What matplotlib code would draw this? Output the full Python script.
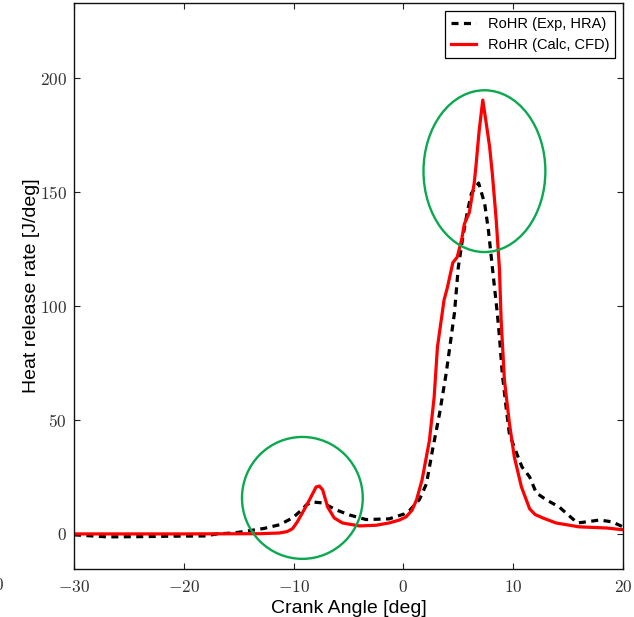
import matplotlib
matplotlib.use("Agg")
import matplotlib.pyplot as plt
from matplotlib.patches import Ellipse

plt.rcParams['mathtext.fontset'] = 'cm'
plt.rcParams['font.family'] = ['Liberation Sans', 'DejaVu Sans']

# Experimental RoHR (HRA)
exp_x = [-30, -28, -27, -24, -21, -18, -17, -15.5, -14.6, -12.7, -11.3, -10.1, -9.2,
         -8.85, -8.3, -7.35, -6.1, -4.9, -3.4, -1.3, 0.1, 0.6, 1.45, 2.1, 2.65, 3.3, 3.9,
         4.35, 4.65, 5.0, 5.4, 5.85, 6.2, 6.85, 7.4, 7.75, 8.1, 8.55, 8.75, 9.0, 9.35, 9.65,
         10.1, 10.8, 11.5, 12.1, 13.0, 14.2, 14.5, 15.85, 17.0, 17.85, 19.0, 20]
exp_y = [-0.4, -1.0, -1.3, -1.2, -1.0, -0.9, 0, 0.4, 1.0, 2.4, 4.0, 7.0, 10.8,
         12.7, 14, 13.6, 10.5, 8.3, 6.3, 6.6, 8.8, 10.5, 15, 22, 36.8, 53, 70.6,
         86.4, 97, 117, 130, 142, 149.5, 154, 145, 133, 117, 97, 86.4, 70.6, 55.7, 44,
         38, 29.4, 25, 18, 15, 11.8, 10.5, 4.8, 5.5, 6.1, 5.3, 3.1]

# Calculated RoHR (CFD)
cfd_x = [-30, -20, -13, -11.3, -10.6, -10.1, -9.7, -9.2, -8.55, -7.95, -7.65, -7.35,
         -6.9, -6.3, -5.55, -4.0, -2.5, -1.3, -0.36, 0.25, 0.8, 1.2, 1.7, 2.37, 2.8, 3.1,
         3.45, 3.7, 4.0, 4.5, 4.9, 5.3, 5.55, 6.0, 6.45, 6.6, 6.9, 7.23, 7.55, 7.85, 8.1,
         8.45, 8.75, 8.9, 9.2, 9.65, 10.1, 10.75, 11.5, 12.0, 12.7, 13.9, 16.0, 18.5, 20]
cfd_y = [0, 0, 0.1, 0.4, 1.0, 2.3, 5.0, 9.2, 15, 20.6, 21, 19.3,
         11.8, 7, 4.8, 3.5, 3.8, 4.8, 6.1, 7.5, 10.5, 15, 23.7, 41, 60, 82,
         94, 102.6, 108, 119, 121.5, 129, 136, 141, 154, 161, 177, 190.4, 180, 170, 158,
         138, 116, 94, 67.5, 48.7, 33.8, 20.6, 11, 8.5, 7, 4.8, 3.1, 2.6, 1.8]

labels = ['RoHR (Exp, HRA)', 'RoHR (Calc, CFD)']
xticks = [-30, -20, -10, 0, 10, 20]
yticks = [0, 50, 100, 150, 200]

# Highlight ellipses: (center x, center y, width, height)
ell_small = (-9.2, 15.8, 11.0, 53.5)
ell_big = (7.38, 159.2, 11.1, 71.0)

fig = plt.figure(figsize=(6.34, 6.17), dpi=100)
ax = fig.add_axes([74/634, 48/617, 549/634, 566/617])

ax.plot(exp_x, exp_y, color='black', lw=2.3, dashes=(2.2, 1.7), label=labels[0])
ax.plot(cfd_x, cfd_y, color='#ff0000', lw=2.3, solid_joinstyle='round', label=labels[1])

for cx, cy, w, h in (ell_small, ell_big):
    ax.add_patch(Ellipse((cx, cy), w, h, fill=False, edgecolor='#0aa84f', lw=1.7, zorder=3))

ax.set_xlim(-30, 20)
ax.set_ylim(-15.4, 233)
ax.set_xticks(xticks)
ax.set_yticks(yticks)
ax.set_xticklabels([f'${v}$' if v >= 0 else f'$-{abs(v)}$' for v in xticks], fontsize=12.5)
ax.set_yticklabels([f'${v}$' for v in yticks], fontsize=12.5)
ax.tick_params(direction='in', length=4, width=0.8, top=True, right=True, pad=5,
               colors='#222222', labelcolor='#333333')
ax.tick_params(axis='x', pad=7)
for s in ax.spines.values():
    s.set_linewidth(1.0)
    s.set_color('#111111')

ax.set_xlabel('Crank Angle [deg]', fontsize=14, labelpad=4)
ax.set_ylabel('Heat release rate [J/deg]', fontsize=14, labelpad=0)

leg = ax.legend(loc='upper right', fontsize=10.5, fancybox=False, framealpha=1,
                edgecolor='black', handlelength=1.7, borderaxespad=0.55)
leg.get_frame().set_linewidth(0.9)

fig.text(5/634, 1 - 577/617, '$20$', ha='right', va='top', fontsize=12.5, color='#333333')

fig.savefig('out.png', dpi=100)
